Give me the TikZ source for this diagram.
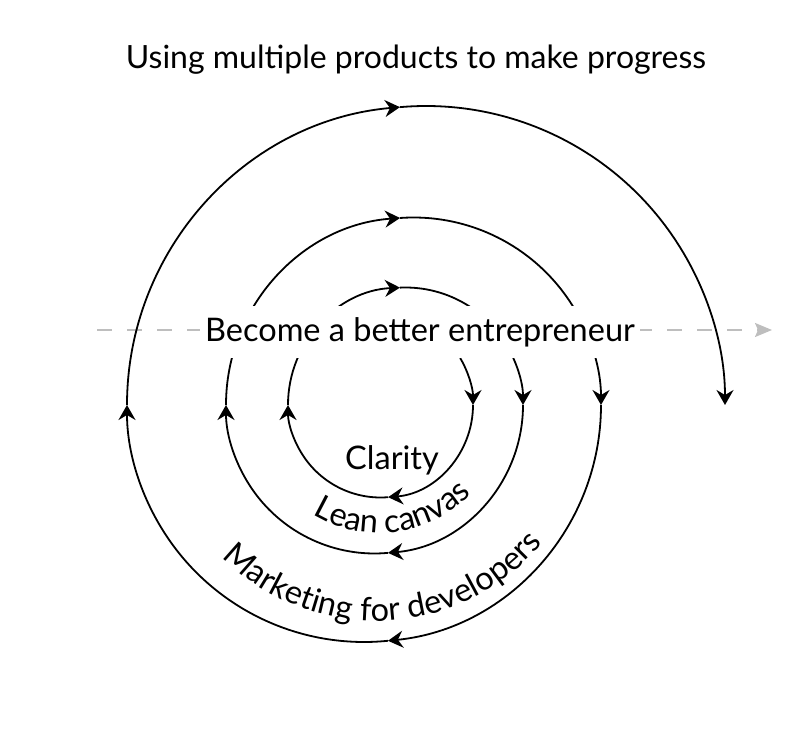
\documentclass[tikz,border=0pt]{standalone}
\usepackage{fontspec}
\setmainfont{Lato}
\usepackage{tikz}
\usetikzlibrary{arrows.meta,decorations.text}
\usepackage{xcolor}
\definecolor{axisgrey}{RGB}{190,190,190}
\newcommand{\labfont}{\fontsize{32.5}{38}\selectfont}
\tikzset{
  turn/.style={draw=black,line width=1.8pt,
               -{Stealth[length=15pt,width=17pt,inset=5pt]}},
  axis/.style={draw=axisgrey,line width=2pt,dash pattern=on 15pt off 15pt,
               -{Stealth[length=17pt,width=14pt,inset=3pt,fill=axisgrey]}},
  goal/.style={fill=white,inner xsep=5pt,inner ysep=0pt,minimum height=52pt,
               font=\labfont},
  lbl/.style={inner sep=0pt,font=\labfont},
  heading/.style={inner sep=0pt,font=\fontsize{32}{38}\selectfont},
}

\begin{document}
\begin{tikzpicture}[x=1pt,y=-1pt]
  \useasboundingbox (0,0) rectangle (800,743);
  \node[heading] (title) at (416,60) {Using multiple products to make progress};
  % axis of progress
  \coordinate (axs) at (97,330);
  \coordinate (axe) at (772,330);
  \draw[axis] (axs) -- (axe);
  % spiral: half turns, each split at its arrow heads
  \foreach \cx/\r/\a/\b in {380.5/92.5/30.5/0, 380.5/92.5/0/-85.3,
      380.5/92.5/-85.3/-180, 405.5/117.5/180/92.7, 405.5/117.5/92.7/0,
      374.5/148.5/0/-84.8, 374.5/148.5/-84.8/-180, 413.5/187.5/180/94.1,
      413.5/187.5/94.1/0, 364/237/0/-84.2, 364/237/-84.2/-180,
      426/299/180/95, 426/299/95/0}{
    \draw[turn] ([shift={(\a:\r pt)}]\cx,405)
      arc[start angle=\a,end angle=\b,radius=\r pt];}
  \node[goal] (goal) at (420,332) {Become a better entrepreneur};
  \node[lbl] (clarity) at (392,460) {Clarity};
  \path[decorate,decoration={text along path,text align=center,
      text={|\labfont|Lean canvas}}]
    ([shift={(-135:128pt)}]379,405) arc[start angle=-135,end angle=-30,radius=128pt];
  \path[decorate,decoration={text along path,text align=center,
      text={|\labfont|Marketing for developers}}]
    ([shift={(-150:216pt)}]376,405) arc[start angle=-150,end angle=-25,radius=216pt];
\end{tikzpicture}
\end{document}
